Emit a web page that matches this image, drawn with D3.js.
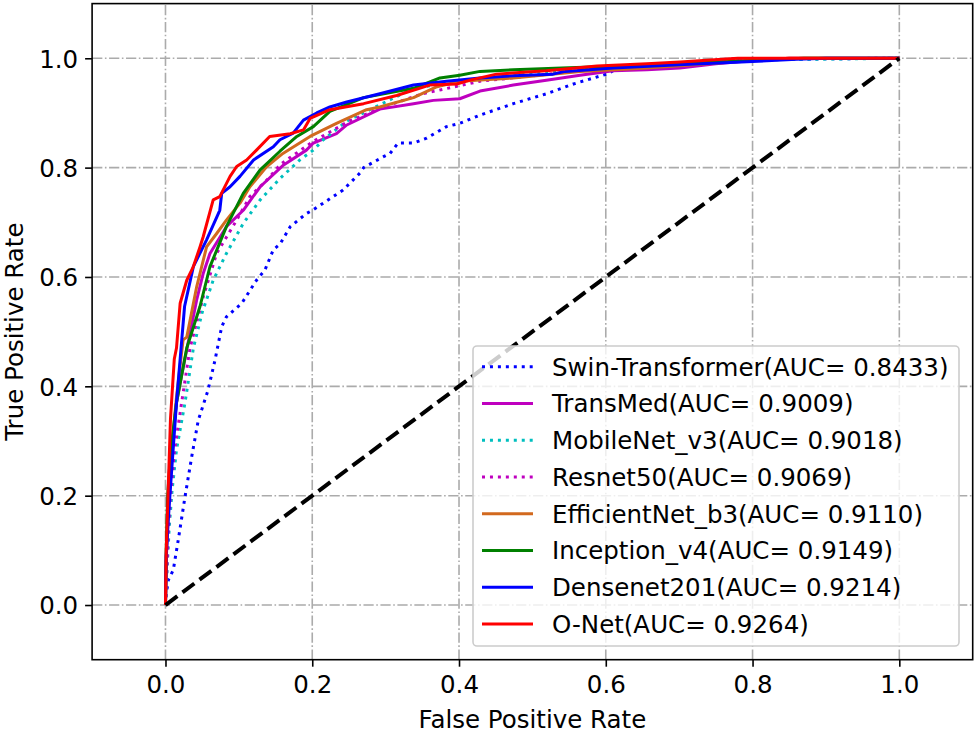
<!DOCTYPE html>
<html>
<head>
<meta charset="utf-8">
<script src="https://cdn.jsdelivr.net/npm/d3@7"></script>
<style>
  html, body { margin: 0; padding: 0; background: #fff; }
  svg { display: block; font-family: "DejaVu Sans", sans-serif; }
</style>
</head>
<body>
<svg id="chart" width="976" height="733"></svg>
<script>
// ---- data (FPR, TPR) ----
const swinTransformer = [[0,0],[0.001,0.02],[0.004,0.046],[0.0106,0.064],[0.0174,0.119],[0.0266,0.198],[0.0357,0.271],[0.0447,0.338],[0.058,0.393],[0.0675,0.448],[0.0766,0.509],[0.083,0.527],[0.104,0.552],[0.124,0.594],[0.1356,0.613],[0.147,0.65],[0.156,0.66],[0.17,0.692],[0.192,0.716],[0.2015,0.723],[0.215,0.735],[0.242,0.759],[0.265,0.79],[0.27,0.8],[0.297,0.82],[0.306,0.826],[0.317,0.845],[0.338,0.845],[0.356,0.854],[0.383,0.875],[0.401,0.881],[0.4286,0.896],[0.474,0.917],[0.519,0.935],[0.556,0.953],[0.601,0.971],[0.619,0.983],[0.656,0.986],[0.72,0.992],[0.8,0.998],[1,1]];
const transMed = [[0,0],[0.001,0.08],[0.003,0.15],[0.006,0.22],[0.01,0.3],[0.015,0.37],[0.022,0.42],[0.0334,0.497],[0.0425,0.558],[0.0515,0.607],[0.0606,0.643],[0.083,0.692],[0.106,0.722],[0.129,0.765],[0.161,0.805],[0.192,0.832],[0.2015,0.845],[0.233,0.862],[0.247,0.878],[0.292,0.907],[0.338,0.917],[0.365,0.923],[0.401,0.926],[0.4286,0.94],[0.474,0.951],[0.519,0.96],[0.565,0.969],[0.61,0.977],[0.656,0.979],[0.701,0.982],[0.75,0.99],[0.8,0.996],[0.85,1],[1,1]];
const mobileNetV3 = [[0,0],[0.002,0.06],[0.005,0.14],[0.009,0.21],[0.015,0.284],[0.0266,0.37],[0.038,0.47],[0.05,0.535],[0.065,0.594],[0.083,0.643],[0.106,0.698],[0.129,0.741],[0.156,0.78],[0.183,0.814],[0.2015,0.832],[0.215,0.851],[0.247,0.885],[0.292,0.915],[0.338,0.945],[0.4,0.958],[0.5,0.972],[0.6,0.983],[0.7,0.99],[0.8,0.997],[1,1]];
const resnet50 = [[0,0],[0.002,0.07],[0.004,0.14],[0.0068,0.2],[0.012,0.28],[0.022,0.37],[0.0334,0.47],[0.0515,0.564],[0.0697,0.643],[0.097,0.704],[0.115,0.747],[0.138,0.777],[0.156,0.805],[0.165,0.814],[0.2015,0.848],[0.25,0.885],[0.3,0.912],[0.35,0.935],[0.4286,0.958],[0.5,0.968],[0.55,0.975],[0.6,0.985],[0.7,0.99],[0.77,0.999],[1,1]];
const efficientNetB3 = [[0,0],[0.001,0.08],[0.003,0.17],[0.006,0.24],[0.01,0.31],[0.015,0.38],[0.024,0.485],[0.029,0.49],[0.0425,0.582],[0.056,0.655],[0.07,0.68],[0.083,0.704],[0.1015,0.735],[0.115,0.765],[0.138,0.802],[0.16,0.826],[0.197,0.857],[0.233,0.881],[0.274,0.906],[0.292,0.911],[0.338,0.928],[0.37,0.948],[0.401,0.958],[0.474,0.964],[0.565,0.976],[0.656,0.982],[0.72,0.988],[0.8,0.996],[0.85,1],[1,1]];
const inceptionV4 = [[0,0],[0.001,0.1],[0.003,0.2],[0.007,0.28],[0.015,0.37],[0.022,0.42],[0.029,0.47],[0.047,0.546],[0.0606,0.619],[0.083,0.692],[0.106,0.753],[0.129,0.796],[0.156,0.83],[0.179,0.857],[0.2015,0.875],[0.224,0.903],[0.27,0.928],[0.338,0.945],[0.374,0.964],[0.401,0.969],[0.4286,0.976],[0.474,0.979],[0.54,0.982],[0.6,0.985],[0.7,0.99],[0.8,0.996],[0.87,1],[1,1]];
const densenet201 = [[0,0],[0.001,0.09],[0.004,0.16],[0.0072,0.223],[0.015,0.37],[0.02,0.45],[0.026,0.546],[0.038,0.619],[0.056,0.668],[0.074,0.722],[0.0766,0.753],[0.088,0.765],[0.1015,0.784],[0.12,0.814],[0.147,0.838],[0.156,0.851],[0.174,0.863],[0.188,0.887],[0.206,0.9],[0.224,0.911],[0.247,0.92],[0.292,0.935],[0.338,0.951],[0.383,0.958],[0.4286,0.964],[0.474,0.968],[0.528,0.971],[0.545,0.976],[0.61,0.982],[0.7,0.988],[0.8,0.994],[0.86,0.998],[0.9,1],[1,1]];
const oNet = [[0,0],[0.001,0.1],[0.0025,0.161],[0.0068,0.34],[0.012,0.45],[0.015,0.47],[0.02,0.552],[0.029,0.594],[0.038,0.619],[0.047,0.655],[0.0515,0.674],[0.065,0.741],[0.074,0.747],[0.088,0.784],[0.097,0.802],[0.1106,0.814],[0.124,0.832],[0.142,0.857],[0.17,0.862],[0.188,0.869],[0.197,0.89],[0.224,0.906],[0.27,0.917],[0.315,0.932],[0.36,0.951],[0.397,0.953],[0.415,0.96],[0.451,0.971],[0.519,0.977],[0.588,0.986],[0.656,0.99],[0.701,0.993],[0.78,1],[1,1]];
const diagonal = [[0,0],[1,1]];

const seriesNames = ["Swin-Transformer","TransMed","MobileNet_v3","Resnet50","EfficientNet_b3","Inception_v4","Densenet201","O-Net"];
const seriesAUC = ["0.8433","0.9009","0.9018","0.9069","0.9110","0.9149","0.9214","0.9264"];
const seriesData = [swinTransformer, transMed, mobileNetV3, resnet50, efficientNetB3, inceptionV4, densenet201, oNet];
const seriesColors = ["#0000ff","#bf00bf","#00bfbf","#bf00bf","#d2691e","#008000","#0000ff","#ff0000"];
const seriesDotted = [true,false,true,true,false,false,false,false];
const tickValues = [0,0.2,0.4,0.6,0.8,1.0];
const xLabel = "False Positive Rate";
const yLabel = "True Positive Rate";

// ---- layout ----
const svg = d3.select("#chart");
const L = 92.1, R = 972.7, T = 3.6, B = 659.7;
const x = d3.scaleLinear().domain([-0.1, 1.1]).range([L, R]);
const y = d3.scaleLinear().domain([-0.1, 1.1]).range([B, T]);
const fontSize = 24.5;

// grid
const grid = svg.append("g").attr("stroke", "#ababab").attr("stroke-width", 1.6)
  .attr("stroke-dasharray", "10.24,2.56,1.6,2.56").attr("fill", "none");
tickValues.forEach(v => {
  grid.append("line").attr("x1", x(v)).attr("x2", x(v)).attr("y1", B).attr("y2", T);
  grid.append("line").attr("x1", L).attr("x2", R).attr("y1", y(v)).attr("y2", y(v));
});

// curves
const line = d3.line().x(d => x(d[0])).y(d => y(d[1]));
seriesData.forEach((data, i) => {
  svg.append("path").datum(data).attr("d", line)
    .attr("fill", "none").attr("stroke", seriesColors[i]).attr("stroke-width", 3)
    .attr("stroke-linejoin", "round")
    .attr("stroke-dasharray", seriesDotted[i] ? "3,4.95" : null);
});
svg.append("path").datum(diagonal).attr("d", line)
  .attr("fill", "none").attr("stroke", "#000").attr("stroke-width", 4)
  .attr("stroke-dasharray", "14.8,6.4");

// axes
const fmt = d3.format(".1f");
const xAxis = svg.append("g").attr("transform", `translate(0,${B})`)
  .call(d3.axisBottom(x).tickValues(tickValues).tickFormat(fmt).tickSize(7).tickPadding(7).tickSizeOuter(0));
const yAxis = svg.append("g").attr("transform", `translate(${L},0)`)
  .call(d3.axisLeft(y).tickValues(tickValues).tickFormat(fmt).tickSize(7).tickPadding(7).tickSizeOuter(0));
[xAxis, yAxis].forEach(a => {
  a.select(".domain").remove();
  a.selectAll(".tick line").attr("stroke", "#000").attr("stroke-width", 1.6);
  a.selectAll(".tick text").attr("font-size", fontSize).attr("font-family", "DejaVu Sans").attr("fill", "#000");
});
xAxis.selectAll(".tick text").attr("dy", null).attr("y", 33.5);
yAxis.selectAll(".tick text").attr("dy", null).attr("y", 8.8);

// frame
svg.append("rect").attr("x", L).attr("y", T).attr("width", R - L).attr("height", B - T)
  .attr("fill", "none").attr("stroke", "#000").attr("stroke-width", 1.6);

// axis labels
svg.append("text").attr("x", (L + R) / 2).attr("y", 728).attr("text-anchor", "middle")
  .attr("font-size", fontSize).text(xLabel);
svg.append("text").attr("transform", `translate(23,${(T + B) / 2}) rotate(-90)`)
  .attr("text-anchor", "middle").attr("font-size", fontSize).text(yLabel);

// legend
const lg = svg.append("g");
lg.append("rect").attr("x", 473).attr("y", 346).attr("width", 486).attr("height", 300)
  .attr("rx", 4).attr("ry", 4).attr("fill", "#fff").attr("fill-opacity", 0.8)
  .attr("stroke", "#cccccc").attr("stroke-width", 1.6);
seriesNames.forEach((name, i) => {
  const cy = 366.7 + i * 36.75;
  lg.append("line").attr("x1", 482).attr("x2", 533).attr("y1", cy).attr("y2", cy)
    .attr("stroke", seriesColors[i]).attr("stroke-width", 3)
    .attr("stroke-dasharray", seriesDotted[i] ? "3,4.95" : null);
  lg.append("text").attr("x", 552).attr("y", cy + 8.8).attr("font-size", fontSize)
    .text(`${name}(AUC= ${seriesAUC[i]})`);
});
</script>
</body>
</html>
